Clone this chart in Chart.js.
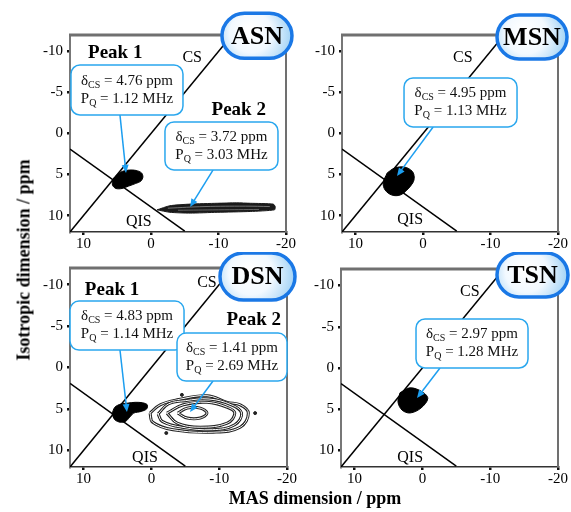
<!DOCTYPE html>
<html>
<head>
<meta charset="utf-8">
<script src="https://cdn.jsdelivr.net/npm/chart.js@4.4.1/dist/chart.umd.min.js"></script>
<style>
  body { margin: 0; background: #fff; width: 571px; height: 512px; position: relative; overflow: hidden; font-family: "Liberation Serif", serif; }
  canvas { position: absolute; }
  .ytitle { position: absolute; left: 24px; top: 260px; transform: translate(-50%, -50%) rotate(-90deg); font-weight: bold; font-size: 18px; white-space: nowrap; }
  .xtitle { position: absolute; left: 315px; top: 498px; transform: translate(-50%, -50%); font-weight: bold; font-size: 18px; white-space: nowrap; }
</style>
</head>
<body>
<canvas id="asn" width="300" height="252" style="left:0;top:0"></canvas>
<canvas id="msn" width="281" height="252" style="left:290px;top:0"></canvas>
<canvas id="dsn" width="300" height="240" style="left:0;top:252px"></canvas>
<canvas id="tsn" width="281" height="240" style="left:290px;top:252px"></canvas>
<div class="ytitle">Isotropic dimension / ppm</div>
<div class="xtitle">MAS dimension / ppm</div>
<script>
// axes
const xTicks = [10, 0, -10, -20];
const yTicks = [-10, -5, 0, 5, 10];

// reference lines [MAS, iso]
const csLine = [[12, 12], [-12, -12]];
const qisLine = [[12, 1.9], [-5, 11.9]];

// fitted parameters shown in the callouts
const asnShift = ['4.76', '3.72'];
const asnPQ = ['1.12', '3.03'];
const msnShift = ['4.95'];
const msnPQ = ['1.13'];
const dsnShift = ['4.83', '1.41'];
const dsnPQ = ['1.14', '2.69'];
const tsnShift = ['2.97'];
const tsnPQ = ['1.28'];

// contour outlines [MAS, iso]
const asnPeak1 = [[5.7, 5.6], [5.0, 5.0], [4.2, 4.6], [3.2, 4.45], [2.2, 4.5], [1.4, 4.8], [1.2, 5.3], [1.5, 5.8], [2.3, 6.1], [3.3, 6.4], [4.3, 6.7], [5.2, 6.7], [5.7, 6.3], [5.7, 5.6]];
const asnPeak2 = [[-0.9, 9.3], [-2.8, 8.8], [-5.8, 8.6], [-9.8, 8.5], [-12.7, 8.45], [-14.7, 8.5], [-18.1, 8.6], [-18.4, 8.9], [-18.3, 9.3], [-14.7, 9.5], [-9.8, 9.6], [-5.8, 9.7], [-2.8, 9.6], [-0.9, 9.3]];
const asnRidgeA = [[-2.5, 9.1], [-8, 8.9], [-14, 8.85], [-17.6, 8.9]];
const asnRidgeB = [[-4, 9.35], [-10, 9.3], [-16, 9.25]];
const msnPeak1 = [[5.3, 4.8], [4.2, 4.2], [2.7, 4.1], [1.6, 4.6], [1.3, 5.3], [1.5, 6.0], [2.4, 6.9], [3.4, 7.5], [4.6, 7.5], [5.6, 6.9], [5.9, 6.0], [5.3, 4.8]];
const dsnPeak1 = [[5.8, 5.6], [5.4, 4.8], [4.5, 4.4], [3.5, 4.3], [2.4, 4.2], [1.3, 4.25], [0.6, 4.5], [0.7, 5.0], [1.5, 5.3], [2.6, 5.5], [3.2, 6.0], [3.8, 6.5], [4.6, 6.6], [5.4, 6.3], [5.8, 5.6]];
const dsnPeak2Outer = [[0.2, 5.5], [-1.3, 4.5], [-3.8, 3.9], [-8.2, 3.4], [-11.2, 4.2], [-13.1, 4.5], [-14.3, 5.5], [-13.1, 7.2], [-9.1, 7.8], [-3.2, 7.5], [-0.2, 6.6], [0.2, 5.5]];
const dsnPeak2Ring = [[-1.0, 5.6], [-2.5, 4.4], [-5.0, 4.0], [-8.5, 3.8], [-11.8, 4.5], [-13.3, 5.5], [-12.3, 6.9], [-9.0, 7.5], [-4.5, 7.2], [-1.6, 6.5], [-1.0, 5.6]];
const dsnPeak2Mid = [[-2.3, 5.5], [-4.7, 4.5], [-8.2, 4.2], [-11.2, 4.8], [-12.3, 5.5], [-11.2, 6.7], [-7.2, 7.2], [-3.8, 6.7], [-2.3, 5.5]];
const dsnPeak2Inner = [[-3.9, 5.5], [-5.3, 4.9], [-7.2, 4.9], [-8.2, 5.5], [-7.2, 6.1], [-5.3, 6.1], [-3.9, 5.5]];
const dsnSpecks = [[-4.5, 3.3], [-15.3, 5.5], [-2.2, 7.9]];
const tsnPeak1 = [[3.3, 3.0], [1.8, 2.4], [0.0, 2.9], [-0.8, 3.7], [0.2, 4.85], [1.8, 5.45], [3.0, 5.1], [3.6, 4.1], [3.3, 3.0]];

const pts = arr => arr.map(([x, y]) => ({ x, y }));

function refLines() {
  return [
    { data: pts(csLine), borderColor: '#000', borderWidth: 1.5, pointRadius: 0, fill: false },
    { data: pts(qisLine), borderColor: '#000', borderWidth: 1.5, pointRadius: 0, fill: false }
  ];
}
function blob(arr, color, tension) {
  return { data: pts(arr), borderColor: color, backgroundColor: color, borderWidth: 1, pointRadius: 0, tension: tension || 0.35, fill: 'shape' };
}
function contour(arr, color, width) {
  return { data: pts(arr), borderColor: color, borderWidth: width, pointRadius: 0, tension: 0.4, fill: false };
}

const callout = (shift, pq) => [[['δ', 0], ['CS', 1], [' = ' + shift + ' ppm', 0]], [['P', 0], ['Q', 1], [' = ' + pq + ' MHz', 0]]];

const annots = {
  asn: {
    area: { left: 70, right: 286, top: 35, bottom: 232 },
    pill: { x: -15.7, y: -11.9, w: 70, h: 45, text: 'ASN' },
    labels: [
      { x: 5.3, y: -9.8, text: 'Peak 1', bold: true },
      { x: -13.0, y: -2.9, text: 'Peak 2', bold: true },
      { x: -6.1, y: -9.2, text: 'CS' },
      { x: 1.8, y: 10.8, text: 'QIS' }
    ],
    boxes: [
      { x: 3.56, y: -5.3, w: 112, h: 50, lines: callout(asnShift[0], asnPQ[0]), from: [4.6, -2.26], to: [3.7, 4.8] },
      { x: -10.44, y: 1.52, w: 113, h: 48, lines: callout(asnShift[1], asnPQ[1]), from: [-9.2, 4.44], to: [-5.8, 8.95] }
    ]
  },
  msn: {
    area: { left: 52, right: 268, top: 35, bottom: 232 },
    pill: { x: -16.15, y: -11.76, w: 70, h: 44, text: 'MSN' },
    labels: [
      { x: -5.9, y: -9.2, text: 'CS' },
      { x: 1.9, y: 10.5, text: 'QIS' }
    ],
    boxes: [
      { x: -5.56, y: -3.78, w: 113, h: 49, lines: callout(msnShift[0], msnPQ[0]), from: [-1.5, -0.79], to: [3.85, 5.17] }
    ]
  },
  dsn: {
    area: { left: 70, right: 287, top: 16, bottom: 215 },
    pill: { x: -15.65, y: -10.97, w: 75, h: 47, text: 'DSN' },
    labels: [
      { x: 5.8, y: -9.35, text: 'Peak 1', bold: true },
      { x: -15.1, y: -5.73, text: 'Peak 2', bold: true },
      { x: -8.2, y: -10.2, text: 'CS' },
      { x: 0.94, y: 10.9, text: 'QIS' }
    ],
    boxes: [
      { x: 3.59, y: -5.06, w: 114, h: 49, lines: callout(dsnShift[0], dsnPQ[0]), from: [4.63, -2.11], to: [3.6, 5.37] },
      { x: -11.89, y: -1.26, w: 110, h: 48, lines: callout(dsnShift[1], dsnPQ[1]), from: [-9.09, 1.63], to: [-5.7, 5.37] }
    ]
  },
  tsn: {
    area: { left: 51, right: 268, top: 17, bottom: 215 },
    pill: { x: -16.24, y: -11.27, w: 71, h: 44, text: 'TSN' },
    labels: [
      { x: -7.0, y: -9.2, text: 'CS' },
      { x: 1.8, y: 10.9, text: 'QIS' }
    ],
    boxes: [
      { x: -7.32, y: -2.97, w: 112, h: 49, lines: callout(tsnShift[0], tsnPQ[0]), from: [-2.6, 0.0], to: [0.79, 3.64] }
    ]
  }
};

function roundRect(ctx, x, y, w, h, r) {
  ctx.beginPath();
  ctx.moveTo(x + r, y);
  ctx.arcTo(x + w, y, x + w, y + h, r);
  ctx.arcTo(x + w, y + h, x, y + h, r);
  ctx.arcTo(x, y + h, x, y, r);
  ctx.arcTo(x, y, x + w, y, r);
  ctx.closePath();
}

function drawRich(ctx, parts, cx, cy) {
  const mainF = '15px "Liberation Serif"', subF = '10px "Liberation Serif"';
  let w = 0;
  parts.forEach(([t, sub]) => { ctx.font = sub ? subF : mainF; w += ctx.measureText(t).width; });
  let x = cx - w / 2;
  parts.forEach(([t, sub]) => {
    ctx.font = sub ? subF : mainF;
    ctx.fillText(t, x, cy + (sub ? 4 : 0));
    x += ctx.measureText(t).width;
  });
}

const annotPlugin = {
  id: 'annot',
  afterDraw(chart) {
    const an = annots[chart.canvas.id];
    const ctx = chart.ctx, xs = chart.scales.x, ys = chart.scales.y, a = chart.chartArea;
    const px = v => xs.getPixelForValue(v), py = v => ys.getPixelForValue(v);
    ctx.save();
    // frame: top and right
    ctx.strokeStyle = '#707070';
    ctx.lineWidth = 3;
    ctx.beginPath(); ctx.moveTo(a.left - 1, a.top); ctx.lineTo(a.right, a.top); ctx.stroke();
    ctx.lineWidth = 2;
    ctx.beginPath(); ctx.moveTo(a.right, a.top); ctx.lineTo(a.right, a.bottom); ctx.stroke();

    ctx.textBaseline = 'middle';
    ctx.textAlign = 'left';
    // callouts
    an.boxes.forEach(b => {
      const fx = px(b.from[0]), fy = py(b.from[1]), tx = px(b.to[0]), ty = py(b.to[1]);
      ctx.strokeStyle = '#1c9ef0'; ctx.fillStyle = '#1c9ef0'; ctx.lineWidth = 1.5;
      const ang = Math.atan2(ty - fy, tx - fx);
      ctx.beginPath(); ctx.moveTo(fx, fy); ctx.lineTo(tx - 6 * Math.cos(ang), ty - 6 * Math.sin(ang)); ctx.stroke();
      ctx.beginPath();
      ctx.moveTo(tx, ty);
      ctx.lineTo(tx - 8 * Math.cos(ang) + 3.5 * Math.sin(ang), ty - 8 * Math.sin(ang) - 3.5 * Math.cos(ang));
      ctx.lineTo(tx - 8 * Math.cos(ang) - 3.5 * Math.sin(ang), ty - 8 * Math.sin(ang) + 3.5 * Math.cos(ang));
      ctx.closePath(); ctx.fill();

      const cx = px(b.x), cy = py(b.y);
      roundRect(ctx, cx - b.w / 2, cy - b.h / 2, b.w, b.h, 9);
      ctx.fillStyle = '#fff'; ctx.fill();
      ctx.strokeStyle = '#2aa7ee'; ctx.lineWidth = 1.5; ctx.stroke();
      ctx.fillStyle = '#111';
      drawRich(ctx, b.lines[0], cx, cy - 9);
      drawRich(ctx, b.lines[1], cx, cy + 9);
    });
    // text labels
    ctx.textAlign = 'center';
    ctx.fillStyle = '#000';
    an.labels.forEach(l => {
      ctx.font = l.bold ? 'bold 19px "Liberation Serif"' : '16px "Liberation Serif"';
      ctx.fillText(l.text, px(l.x), py(l.y));
    });
    // sample pill
    const p = an.pill, cx = px(p.x), cy = py(p.y);
    roundRect(ctx, cx - p.w / 2, cy - p.h / 2, p.w, p.h, p.h / 2);
    const g = ctx.createRadialGradient(cx - p.w * 0.12, cy - p.h * 0.15, 2, cx - p.w * 0.05, cy, p.w * 0.62);
    g.addColorStop(0, '#ffffff');
    g.addColorStop(0.45, '#f2f9ff');
    g.addColorStop(1, '#8ec9f3');
    ctx.fillStyle = g; ctx.fill();
    ctx.strokeStyle = '#1a78e6'; ctx.lineWidth = 3.5; ctx.stroke();
    ctx.fillStyle = '#000';
    ctx.font = 'bold 26px "Liberation Serif"';
    ctx.fillText(p.text, cx, cy + 1);
    ctx.restore();
  }
};

function makeChart(id, layers) {
  const el = document.getElementById(id);
  const area = annots[id].area;
  const tickFont = { family: 'Liberation Serif', size: 15 };
  // Chart.js paints dataset 0 last, so flip to keep the list in painting order
  const datasets = layers.slice().reverse();
  return new Chart(el, {
    type: 'line',
    data: { datasets },
    options: {
      responsive: false,
      animation: false,
      events: [],
      layout: { padding: { top: area.top, right: el.width - area.right, left: 0, bottom: 0 } },
      plugins: { legend: { display: false }, tooltip: { enabled: false } },
      scales: {
        x: {
          type: 'linear', min: -20, max: 12, reverse: true,
          afterBuildTicks: s => { s.ticks = xTicks.map(v => ({ value: v })); },
          afterFit: s => { s.height = el.height - area.bottom; },
          ticks: { color: '#000', font: tickFont, padding: 0, maxRotation: 0, callback: v => String(v) },
          grid: { display: true, drawOnChartArea: false, drawTicks: true, tickLength: 3, color: '#111', lineWidth: 2.5 },
          border: { display: true, color: '#333', width: 1.5, dash: [1.5, 4.5] }
        },
        y: {
          type: 'linear', min: -12, max: 12, reverse: true,
          afterBuildTicks: s => { s.ticks = yTicks.map(v => ({ value: v })); },
          afterFit: s => { s.width = area.left; },
          ticks: { color: '#000', font: tickFont, padding: 4, callback: v => String(v) },
          grid: { display: true, drawOnChartArea: false, drawTicks: true, tickLength: 3, color: '#111', lineWidth: 2.5 },
          border: { display: true, color: '#777', width: 2 }
        }
      }
    },
    plugins: [annotPlugin]
  });
}

makeChart('asn', [
  ...refLines(),
  blob(asnPeak1, '#000', 0.3),
  blob(asnPeak2, '#1a1a1a', 0.2),
  contour(asnRidgeA, '#8a8a8a', 0.8),
  contour(asnRidgeB, '#777', 0.8)
]);
makeChart('msn', [...refLines(), blob(msnPeak1, '#000')]);
makeChart('dsn', [
  ...refLines(),
  blob(dsnPeak1, '#000', 0.3),
  contour(dsnPeak2Outer, '#222', 3), contour(dsnPeak2Outer, '#fff', 1),
  contour(dsnPeak2Ring, '#222', 3), contour(dsnPeak2Ring, '#fff', 1),
  contour(dsnPeak2Mid, '#222', 3), contour(dsnPeak2Mid, '#fff', 1),
  contour(dsnPeak2Inner, '#222', 3), contour(dsnPeak2Inner, '#fff', 1),
  { data: pts(dsnSpecks), showLine: false, pointRadius: 1.5, backgroundColor: '#222', borderColor: '#222' }
]);
makeChart('tsn', [...refLines(), blob(tsnPeak1, '#000')]);
</script>
</body>
</html>
